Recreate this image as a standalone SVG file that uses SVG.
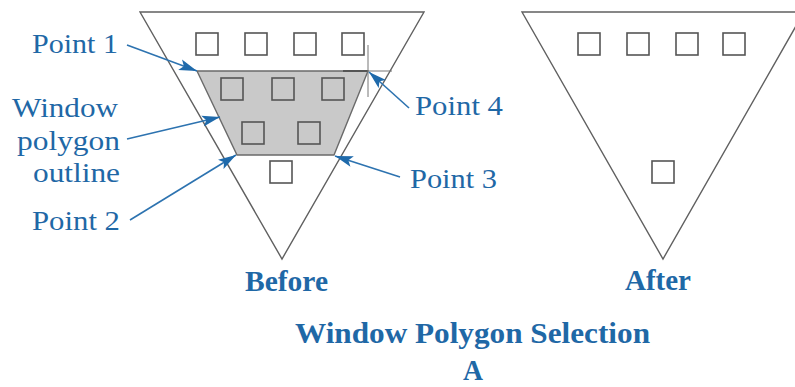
<svg xmlns="http://www.w3.org/2000/svg" width="795" height="387" viewBox="0 0 795 387">
<defs>
<style>
.tri{fill:none;stroke:#606060;stroke-width:1.4}
.sq{fill:none;stroke:#555;stroke-width:1.6}
.win{fill:#c9c9c9;stroke:#6a6a6a;stroke-width:1.4}
.arr{fill:none;stroke:#2d73b0;stroke-width:1.6;marker-end:url(#ah)}
.lbl{font-family:"Liberation Serif",serif;font-size:28px;fill:#1f68a6}
.bold{font-family:"Liberation Serif",serif;font-size:30px;font-weight:bold;fill:#1f68a6}
</style>
<marker id="ah" markerUnits="userSpaceOnUse" markerWidth="22" markerHeight="12" refX="18" refY="6" orient="auto" viewBox="0 0 22 12">
<path d="M0,0.5 L18,6 L0,11.5 L4,6 Z" fill="#1f6aab"/>
</marker>
</defs>
<g id="before">
<polygon class="tri" points="140,12 424,12 282,259"/>
<polygon class="win" points="197,71 368,71 334,155 237,155"/>
<rect class="sq" x="196" y="33" width="22" height="22"/>
<rect class="sq" x="245" y="33" width="22" height="22"/>
<rect class="sq" x="294" y="33" width="22" height="22"/>
<rect class="sq" x="342" y="33" width="22" height="22"/>
<rect class="sq" x="221" y="78" width="22" height="22"/>
<rect class="sq" x="272" y="78" width="22" height="22"/>
<rect class="sq" x="322" y="78" width="22" height="22"/>
<rect class="sq" x="242" y="122" width="22" height="22"/>
<rect class="sq" x="298" y="122" width="22" height="22"/>
<rect class="sq" x="270" y="161" width="22" height="22"/>
<line x1="343" y1="71" x2="368" y2="71" stroke="#555" stroke-width="2"/>
<line x1="368" y1="71" x2="392" y2="71" stroke="#777" stroke-width="1"/>
<line x1="368" y1="45" x2="368" y2="97" stroke="#777" stroke-width="1"/>
</g>
<g id="after">
<polygon class="tri" points="522,12 804,12 663,259"/>
<rect class="sq" x="578" y="33" width="22" height="22"/>
<rect class="sq" x="627" y="33" width="22" height="22"/>
<rect class="sq" x="676" y="33" width="22" height="22"/>
<rect class="sq" x="723" y="33" width="22" height="22"/>
<rect class="sq" x="652" y="161" width="22" height="22"/>
</g>
<g id="connectors">
<line class="arr" x1="127" y1="45" x2="197" y2="71"/>
<line class="arr" x1="127" y1="139" x2="220" y2="117"/>
<line class="arr" x1="130" y1="220" x2="236" y2="155"/>
<line class="arr" x1="409" y1="108" x2="369" y2="72"/>
<line class="arr" x1="400" y1="177" x2="335" y2="156"/>
</g>
<g id="labels">
<text class="lbl" x="32" y="53" textLength="86" lengthAdjust="spacingAndGlyphs">Point 1</text>
<text class="lbl" x="12" y="117" textLength="106" lengthAdjust="spacingAndGlyphs">Window</text>
<text class="lbl" x="17" y="150" textLength="103" lengthAdjust="spacingAndGlyphs">polygon</text>
<text class="lbl" x="33" y="182" textLength="87" lengthAdjust="spacingAndGlyphs">outline</text>
<text class="lbl" x="32" y="230" textLength="88" lengthAdjust="spacingAndGlyphs">Point 2</text>
<text class="lbl" x="415" y="115" textLength="88" lengthAdjust="spacingAndGlyphs">Point 4</text>
<text class="lbl" x="410" y="188" textLength="87" lengthAdjust="spacingAndGlyphs">Point 3</text>
<text class="bold" x="245" y="291" textLength="83" lengthAdjust="spacingAndGlyphs">Before</text>
<text class="bold" x="625" y="290" textLength="66" lengthAdjust="spacingAndGlyphs">After</text>
<text class="bold" x="295" y="343" textLength="355" lengthAdjust="spacingAndGlyphs">Window Polygon Selection</text>
<text class="bold" x="463" y="380" textLength="20" lengthAdjust="spacingAndGlyphs">A</text>
</g>
</svg>
